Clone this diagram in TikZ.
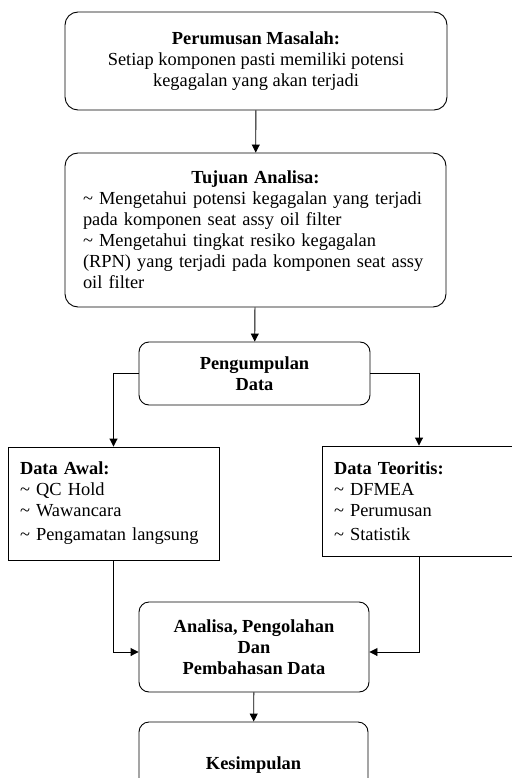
\documentclass[tikz,border=0pt]{standalone}
\usepackage{fontspec}
\setmainfont{Liberation Serif}
\usepackage{tikz}
\usetikzlibrary{arrows.meta,positioning,calc}
\tikzset{>={Triangle[length=8pt,width=8pt]},
	rbox/.style={draw,rounded corners=13pt,line width=0.9pt,align=center,inner sep=0pt},
	sbox/.style={draw,rectangle,line width=0.9pt,align=left,inner xsep=12pt,inner ysep=0pt},
	link/.style={line width=0.9pt}}
\newcommand{\tld}{\textasciitilde\ }

\begin{document}
\begin{tikzpicture}[x=1pt,y=-1pt,font=\fontsize{18.4}{21}\selectfont]
	\useasboundingbox (0,0) rectangle (511,778);
	\node (masalah) at (256,61) [rbox,minimum width=382pt,minimum height=98pt] {\textbf{Perumusan Masalah:}\\Setiap komponen pasti memiliki potensi\\kegagalan yang akan terjadi};
	\node (tujuan) at (255.5,230) [rbox,minimum width=381pt,minimum height=154pt,text width=345pt,align=left] {\makebox[345pt]{\textbf{Tujuan Analisa:}}\\\tld Mengetahui potensi kegagalan yang terjadi\\pada komponen seat assy oil filter\\\tld Mengetahui tingkat resiko kegagalan\\(RPN) yang terjadi pada komponen seat assy\\oil filter};
	\node (kumpul) at (254.5,373.5) [rbox,rounded corners=10pt,minimum width=231pt,minimum height=63pt] {\textbf{Pengumpulan}\\\textbf{Data}};
	\node (awal) at (113.5,503.5) [sbox,minimum width=211pt,minimum height=113pt,text width=187pt] {\textbf{Data Awal:}\\\tld QC Hold\\\tld Wawancara\\[3pt]\tld Pengamatan langsung};
	\node (teori) at (419,501) [sbox,minimum width=194pt,minimum height=110pt,text width=170pt] {\textbf{Data Teoritis:}\\\tld DFMEA\\\tld Perumusan\\[3pt]\tld Statistik};
	\node (analisa) at (254,647) [rbox,rounded corners=10pt,minimum width=230pt,minimum height=90pt] {\textbf{Analisa, Pengolahan}\\\textbf{Dan}\\\textbf{Pembahasan Data}};
	\node (simpul) at (253.5,765) [rbox,rounded corners=10pt,minimum width=229pt,minimum height=86pt] {\textbf{Kesimpulan}};
	\draw [link,->] (masalah) -- (tujuan);
	\draw [link,->] (tujuan) -- (kumpul);
	\draw [link,->] (kumpul.west) -| (awal.north);
	\draw [link,->] (kumpul.east) -| (teori.north);
	\draw [link,->] (awal.south) |- ([yshift=-5pt]analisa.west);
	\draw [link,->] (teori.south) |- ([yshift=-5pt]analisa.east);
	\draw [link,->] (analisa) -- (simpul);
\end{tikzpicture}
\end{document}
